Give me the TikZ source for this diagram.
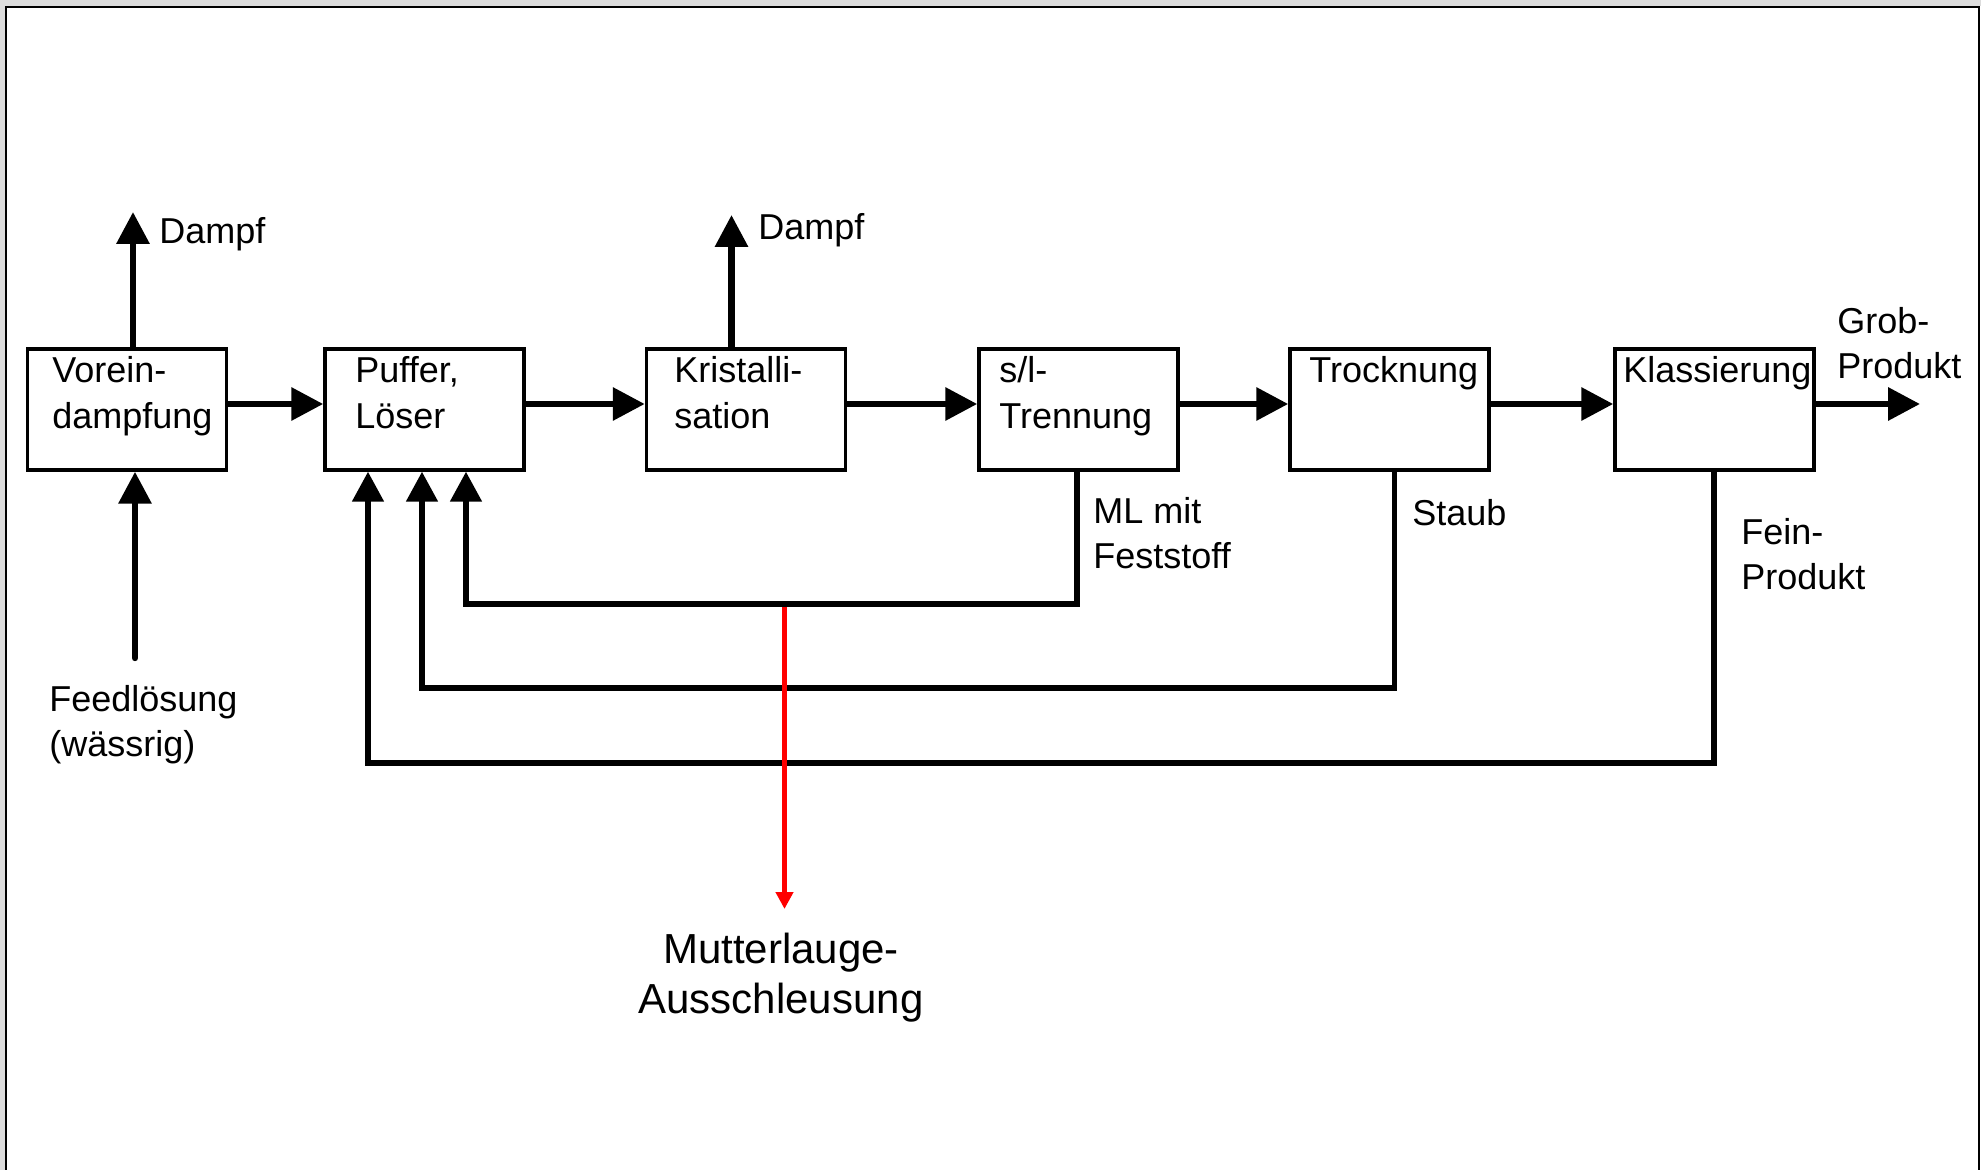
\documentclass[tikz,border=0pt]{standalone}
\usepackage{fontspec}
\setmainfont{Liberation Sans}
\usetikzlibrary{arrows.meta}
\definecolor{framegrey}{RGB}{220,220,220}
\definecolor{redline}{RGB}{255,0,0}
\tikzset{
  procbox/.style={draw, line width=1.75pt, rectangle, minimum width=99.5pt, minimum height=60.5pt, inner sep=0pt},
  boxtext/.style={anchor=base west, inner sep=0pt, align=left, font=\fontsize{18}{23}\selectfont},
  lbl/.style={anchor=base west, inner sep=0pt, align=left, font=\fontsize{18}{22.5}\selectfont},
  flow/.style={line width=3.2pt, line cap=round, -{Triangle[length=16pt, width=16pt]}},
  retline/.style={line width=2.6pt, line cap=round, line join=miter, -{Triangle[length=15pt, width=15.5pt]}},
  redarrow/.style={draw=redline, line width=2.5pt, -{Triangle[length=8.5pt, width=8.5pt]}, redline},
}
\begin{document}
\begin{tikzpicture}[x=0.5pt, y=-0.5pt]
% frame
\fill[framegrey] (0,0) rectangle (1981,1170);
\fill[white] (5,6) rectangle (1981,1170);
\useasboundingbox (0,0) rectangle (1981,1170);
\draw[line width=1.2pt] (6,1170) -- (6,7) -- (1979,7) -- (1979,1170);

% boxes
\node[procbox] (vor) at (127,409.5) {};
\node[procbox] (puf) at (424.5,409.5) {};
\node[procbox] (kri) at (746,409.5) {};
\node[procbox] (slt) at (1078.5,409.5) {};
\node[procbox] (tro) at (1389.5,409.5) {};
\node[procbox] (kla) at (1714.5,409.5) {};

% box texts (base anchor = last line)
\node[boxtext] (tvor) at (52,429) {Vorein-\\dampfung};
\node[boxtext] (tpuf) at (355,429) {Puffer,\\Löser};
\node[boxtext] (tkri) at (674,429) {Kristalli-\\sation};
\node[boxtext] (tslt) at (999,429) {s/l-\\Trennung};
\node[boxtext] (ttro) at (1309,383) {Trocknung};
\node[boxtext] (tkla) at (1623,383) {Klassierung};

% main flow
\coordinate (fy) at (0,404);
\coordinate (grob) at (1920,404);
\draw[flow] (vor.east |- fy) -- (puf.west |- fy);
\draw[flow] (puf.east |- fy) -- (kri.west |- fy);
\draw[flow] (kri.east |- fy) -- (slt.west |- fy);
\draw[flow] (slt.east |- fy) -- (tro.west |- fy);
\draw[flow] (tro.east |- fy) -- (kla.west |- fy);
\draw[flow] (kla.east |- fy) -- (grob);

% Dampf
\coordinate (d1) at (133,212);
\coordinate (d2) at (731.5,215);
\draw[flow] (vor.north -| d1) -- (d1);
\draw[flow] (kri.north -| d2) -- (d2);
\node[lbl] (ld1) at (159,244) {Dampf};
\node[lbl] (ld2) at (758,240) {Dampf};

% Feed
\coordinate (feed) at (135,658);
\draw[flow] (feed) -- (feed |- vor.south);
\node[lbl] (lfeed) at (49,756) {Feedlösung\\(wässrig)};

% returns
\coordinate (ml1) at (1077,604);
\coordinate (ml2) at (466,604);
\coordinate (st1) at (1394.5,688);
\coordinate (st2) at (422,688);
\coordinate (fe1) at (1714,763);
\coordinate (fe2) at (368,763);
\draw[retline] (slt.south -| ml1) -- (ml1) -- (ml2) -- (ml2 |- puf.south);
\draw[retline] (tro.south -| st1) -- (st1) -- (st2) -- (st2 |- puf.south);
\draw[retline] (kla.south -| fe1) -- (fe1) -- (fe2) -- (fe2 |- puf.south);

\node[lbl] (lml) at (1093,569) {ML mit\\Feststoff};
\node[lbl] (lst) at (1412,526) {Staub};
\node[lbl] (lfe) at (1741,589) {Fein-\\Produkt};
\node[lbl] (lgr) at (1837,379) {Grob-\\Produkt};

% red discharge
\coordinate (r1) at (784.5,607);
\coordinate (r2) at (784.5,909);
\draw[redarrow] (r1) -- (r2);
\node[anchor=base, inner sep=0pt, align=center, font=\fontsize{21}{25}\selectfont] (lmu) at (781,1013) {Mutterlauge-\\Ausschleusung};
\end{tikzpicture}
\end{document}
